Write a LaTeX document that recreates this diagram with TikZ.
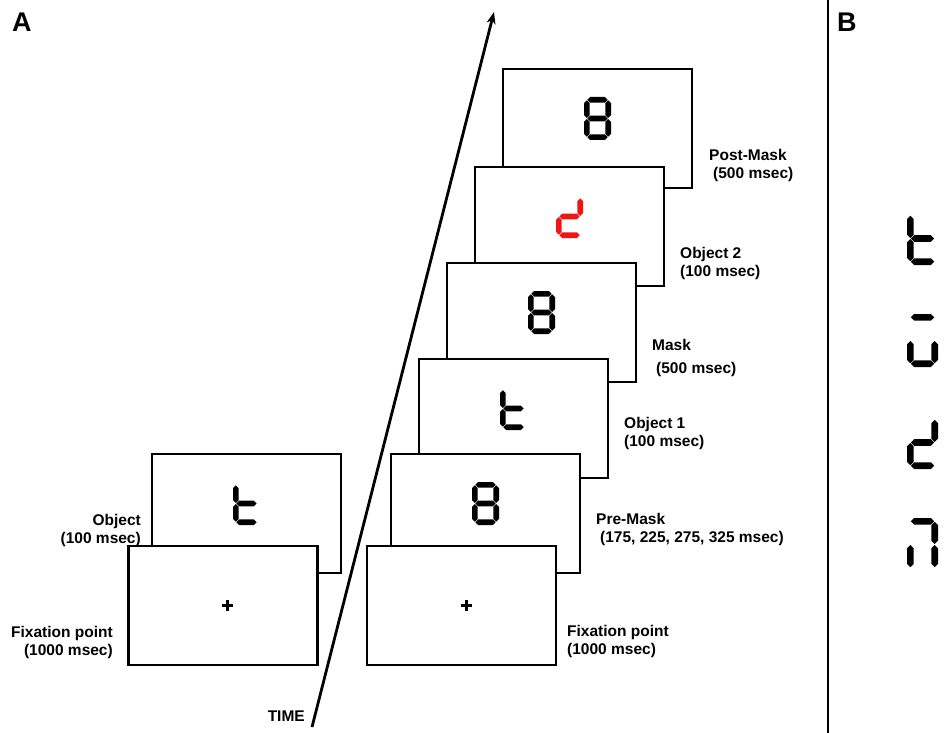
\documentclass[tikz,border=0pt]{standalone}
\usepackage{fontspec}
\setmainfont{Liberation Sans}
\usetikzlibrary{arrows.meta}
\definecolor{segred}{RGB}{240,20,20}

\def\gW{27}\def\gH{43}\def\gT{5.6}\def\gG{0.5}
\newcommand\hseg[3]{\fill (#1,#3) -- ({#1+\gT/2},{#3-\gT/2}) -- ({#2-\gT/2},{#3-\gT/2}) -- (#2,#3) -- ({#2-\gT/2},{#3+\gT/2}) -- ({#1+\gT/2},{#3+\gT/2}) -- cycle;}
\newcommand\vseg[3]{\fill (#1,#2) -- ({#1+\gT/2},{#2+\gT/2}) -- ({#1+\gT/2},{#3-\gT/2}) -- (#1,#3) -- ({#1-\gT/2},{#3-\gT/2}) -- ({#1-\gT/2},{#2+\gT/2}) -- cycle;}
\newcommand\segA{\hseg{\gT/2+\gG}{\gW-\gT/2-\gG}{\gT/2}}
\newcommand\segG{\hseg{\gT/2+\gG}{\gW-\gT/2-\gG}{\gH/2}}
\newcommand\segD{\hseg{\gT/2+\gG}{\gW-\gT/2-\gG}{\gH-\gT/2}}
\newcommand\segF{\vseg{\gT/2}{\gT/2+\gG}{\gH/2-\gG}}
\newcommand\segE{\vseg{\gT/2}{\gH/2+\gG}{\gH-\gT/2-\gG}}
\newcommand\segB{\vseg{\gW-\gT/2}{\gT/2+\gG}{\gH/2-\gG}}
\newcommand\segC{\vseg{\gW-\gT/2}{\gH/2+\gG}{\gH-\gT/2-\gG}}
\newcommand\eightglyph{\segA\segB\segC\segD\segE\segF\segG}
\newcommand\tglyph{\segF\segE\segG\segD}
\newcommand\dglyph{\segB\segG\segE\segD}

\tikzset{
  scrbox/.style={draw, line width=2.8pt, fill=white, minimum width=189pt, minimum height=119pt, inner sep=0pt},
  lbl/.style={font=\bfseries\fontsize{15.5}{18}\selectfont, inner sep=0pt},
  crossline/.style={line width=3pt},
  panel/.style={font=\bfseries\fontsize{27}{30}\selectfont, inner sep=0pt}
}

\begin{document}
\begin{tikzpicture}[x=1pt,y=-1pt]
\useasboundingbox (0,0) rectangle (945,733);

% panel letters
\node[panel, anchor=base west] (pA) at (12,32) {A};
\node[panel, anchor=base west] (pB) at (837,32) {B};

% separator
\coordinate (vt) at (828,0);
\coordinate (vb) at (828,733);
\draw[line width=1.8pt] (vt) -- (vb);

% time arrow
\coordinate (tb) at (312,727);
\coordinate (tt) at (494,12);
\draw[line width=2.8pt, -{Stealth[length=12pt,width=9pt]}] (tb) -- (tt);
\node[lbl, anchor=base east] (time) at (305,721.5) {TIME};

% right sequence (back to front)
\node[scrbox] (post) at (597.5,128.5) {};
\begin{scope}[shift={(584,97)}]\eightglyph\end{scope}
\node[scrbox] (obj2) at (569.5,226.5) {};
\begin{scope}[shift={(556,195)}, segred]\dglyph\end{scope}
\node[scrbox] (mask) at (541.5,322.5) {};
\begin{scope}[shift={(528,291)}]\eightglyph\end{scope}
\node[scrbox] (obj1) at (513.5,418.5) {};
\begin{scope}[shift={(500,387)}]\tglyph\end{scope}
\node[scrbox] (pre) at (485.5,513.5) {};
\begin{scope}[shift={(472,482)}]\eightglyph\end{scope}
\node[scrbox] (fixR) at (461.5,605.5) {};
\coordinate (crR) at (466,605);
\draw[crossline] ([xshift=-5.5pt]crR) -- ([xshift=5.5pt]crR);
\draw[crossline] ([yshift=-5.5pt]crR) -- ([yshift=5.5pt]crR);

% left sequence
\node[scrbox] (objL) at (246.5,513.5) {};
\begin{scope}[shift={(233,482)}]\tglyph\end{scope}
\node[scrbox] (fixL) at (223,605.5) {};
\coordinate (crL) at (227,605);
\draw[crossline] ([xshift=-5.5pt]crL) -- ([xshift=5.5pt]crL);
\draw[crossline] ([yshift=-5.5pt]crL) -- ([yshift=5.5pt]crL);

% right labels
\node[lbl, anchor=base west] (lpost1) at (709,160.5) {Post-Mask};
\node[lbl, anchor=base west] (lpost2) at (713,178.5) {(500 msec)};
\node[lbl, anchor=base west] (lobj21) at (680,258.5) {Object 2};
\node[lbl, anchor=base west] (lobj22) at (680,276.5) {(100 msec)};
\node[lbl, anchor=base west] (lmask1) at (652,350.5) {Mask};
\node[lbl, anchor=base west] (lmask2) at (656,373.5) {(500 msec)};
\node[lbl, anchor=base west] (lobj11) at (624,428.5) {Object 1};
\node[lbl, anchor=base west] (lobj12) at (624,446.5) {(100 msec)};
\node[lbl, anchor=base west] (lpre1) at (596,524.5) {Pre-Mask};
\node[lbl, anchor=base west] (lpre2) at (600,542.5) {(175, 225, 275, 325 msec)};
\node[lbl, anchor=base west] (lfixR1) at (567,636.5) {Fixation point};
\node[lbl, anchor=base west] (lfixR2) at (567,654) {(1000 msec)};

% left labels
\node[lbl, anchor=base east] (lobjL1) at (141,525) {Object};
\node[lbl, anchor=base east] (lobjL2) at (141,543) {(100 msec)};
\node[lbl, anchor=base east] (lfixL1) at (113,637.5) {Fixation point};
\node[lbl, anchor=base east] (lfixL2) at (113,655) {(1000 msec)};

% panel B glyphs
\begin{scope}
\def\gW{31}\def\gH{53}\def\gT{6.6}
\begin{scope}[shift={(907,212)}]\segF\segE\segG\segD\end{scope}
\begin{scope}[shift={(907,314)}]\segA\segE\segC\segD\end{scope}
\begin{scope}[shift={(907,416)}]\segB\segG\segE\segD\end{scope}
\begin{scope}[shift={(907,518)}]\segA\segB\segC\segE\end{scope}
\end{scope}
\end{tikzpicture}
\end{document}
